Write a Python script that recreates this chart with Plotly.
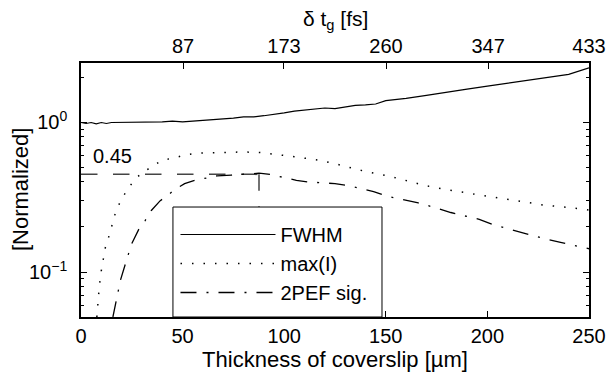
import numpy as np
import plotly.graph_objects as go

# ---- data ----
thick_fwhm = [0, 2.5, 5, 7.5, 10, 12.5, 15, 20, 25, 30, 35, 40, 45, 50, 55, 60, 65, 70,
              75, 80, 85, 90, 95, 100, 105, 110, 115, 120, 125, 130, 135, 140, 145, 150,
              160, 170, 180, 190, 200, 210, 220, 230, 240, 250]
fwhm = [1.00, 0.985, 1.0, 0.98, 1.0, 0.985, 1.0, 1.0, 1.0, 1.005, 1.01, 1.01, 1.02, 1.01,
        1.02, 1.03, 1.05, 1.05, 1.07, 1.09, 1.09, 1.11, 1.13, 1.16, 1.19, 1.21, 1.24, 1.25,
        1.24, 1.27, 1.30, 1.31, 1.33, 1.40, 1.45, 1.52, 1.60, 1.67, 1.75, 1.83, 1.92, 2.00,
        2.10, 2.32]

thick_maxi = [7.8, 8.2, 9, 10, 11, 12, 14, 17, 20, 22, 26, 30, 35, 40, 46, 52, 58, 65, 72,
              80, 88, 95, 100, 105, 111, 117, 125, 132, 140, 151, 160, 170, 180, 189, 200,
              208, 220, 228, 240, 250]
maxi = [0.05, 0.06, 0.08, 0.102, 0.125, 0.146, 0.178, 0.25, 0.31, 0.34, 0.41, 0.46, 0.505,
        0.56, 0.58, 0.61, 0.625, 0.63, 0.635, 0.635, 0.63, 0.615, 0.60, 0.59, 0.575, 0.56,
        0.53, 0.50, 0.47, 0.44, 0.41, 0.377, 0.355, 0.34, 0.32, 0.31, 0.29, 0.28, 0.27, 0.26]

thick_2pef = [15.7, 16.5, 17.7, 19.5, 21, 22.4, 25, 27, 29, 31.5, 34.5, 39, 42, 46, 51, 56,
              62, 67, 74, 82, 87.6, 93, 98, 106, 112, 118, 125, 132, 138, 144, 151, 158,
              166, 174, 182, 190, 196, 203, 210, 220, 228, 236, 243, 250]
pef = [0.05, 0.058, 0.068, 0.089, 0.105, 0.12, 0.155, 0.175, 0.2, 0.22, 0.257, 0.30, 0.32,
       0.355, 0.39, 0.41, 0.425, 0.44, 0.445, 0.455, 0.458, 0.45, 0.435, 0.41, 0.40, 0.397,
       0.39, 0.377, 0.36, 0.345, 0.32, 0.305, 0.29, 0.27, 0.25, 0.235, 0.225, 0.207, 0.195,
       0.18, 0.167, 0.158, 0.15, 0.143]

ref_level = 0.45          # horizontal marker level
ref_thick = 87.6          # thickness where 2PEF peaks
y_bottom = 0.05
y_top = 2.5

x_ticks = [0, 50, 100, 150, 200, 250]
top_ticks = [87, 173, 260, 347, 433]
top_range = [0, 433]
y_major = [0.1, 1]
y_major_text = ["10<sup>\u22121</sup>", "10<sup>0</sup>"]
y_minor = [0.05, 0.06, 0.07, 0.08, 0.09, 0.2, 0.3, 0.4, 0.5, 0.6, 0.7, 0.8, 0.9, 2]

FONT = "Liberation Sans, Arial, Helvetica, sans-serif"
FS = 20

fig = go.Figure()
fig.add_trace(go.Scatter(x=[0, ref_thick], y=[ref_level, ref_level], mode="lines",
                         line=dict(color="#444", width=1.5, dash="16.5px,15.5px"),
                         showlegend=False, hoverinfo="skip"))
fig.add_trace(go.Scatter(x=[ref_thick, ref_thick], y=[ref_level, y_bottom], mode="lines",
                         line=dict(color="#444", width=1.5, dash="16.5px,15.5px"),
                         showlegend=False, hoverinfo="skip"))
fig.add_trace(go.Scatter(x=thick_fwhm, y=fwhm, mode="lines", name="FWHM",
                         line=dict(color="black", width=1.2)))
fig.add_trace(go.Scatter(x=thick_maxi, y=maxi, mode="lines", name="max(I)",
                         line=dict(color="black", width=1.5, dash="1.5px,10px")))
fig.add_trace(go.Scatter(x=thick_2pef, y=pef, mode="lines", name="2PEF sig.",
                         line=dict(color="black", width=1.3, dash="16px,10px,2px,10px")))
# invisible trace to carry the top axis
fig.add_trace(go.Scatter(x=top_range, y=[1, 1], xaxis="x2", mode="lines",
                         line=dict(width=0), showlegend=False, hoverinfo="skip"))

fig.update_layout(
    width=609, height=379,
    margin=dict(l=81, r=20, t=63, b=62, autoexpand=False),
    paper_bgcolor="white", plot_bgcolor="white",
    font=dict(family=FONT, size=FS, color="black"),
    xaxis=dict(range=[0, 250], tickvals=x_ticks, ticks="inside", ticklen=6,
               tickcolor="black", showline=True, linecolor="black", linewidth=1.6,
               showgrid=False, zeroline=False, automargin=False,
               tickfont=dict(family=FONT, size=FS),
               title=dict(text="Thickness of coverslip [\u00b5m]", standoff=4,
                          font=dict(family=FONT, size=22))),
    xaxis2=dict(range=top_range, overlaying="x", side="top", tickvals=top_ticks,
                ticks="inside", ticklen=6, tickcolor="black", showline=True,
                linecolor="black", linewidth=1.6, showgrid=False, zeroline=False,
                automargin=False, tickfont=dict(family=FONT, size=FS)),
    yaxis=dict(type="log", range=[np.log10(y_bottom), np.log10(y_top)],
               tickvals=y_major, ticktext=y_major_text, ticks="inside", ticklen=6,
               tickcolor="black", showline=True, linecolor="black", linewidth=1.6,
               mirror="ticks", showgrid=False, zeroline=False, ticklabelstandoff=8,
               automargin=False, tickfont=dict(family=FONT, size=FS),
               minor=dict(tickvals=y_minor, ticks="inside", ticklen=3, tickcolor="black")),
    legend=dict(x=0.186, y=0.4016, xanchor="left", yanchor="top",
                bgcolor="rgba(0,0,0,0)", borderwidth=0, itemwidth=95,
                font=dict(family=FONT, size=FS)),
    shapes=[dict(type="rect", xref="paper", yref="paper", x0=0.181, x1=0.5925,
                 y0=0, y1=0.433, fillcolor="white", line=dict(color="black", width=1),
                 layer="above")],
    annotations=[
        dict(x=15.7, y=np.log10(0.6), xref="x", yref="y", text="0.45",
             showarrow=False, font=dict(family=FONT, size=FS)),
        dict(x=0.5, y=1.169, xref="paper", yref="paper", text="\u03b4 t<sub>g</sub> [fs]",
             showarrow=False, yanchor="middle", font=dict(family=FONT, size=21)),
        dict(x=-0.12, y=0.5, xref="paper", yref="paper", text="[Normalized]",
             textangle=-90, showarrow=False, xanchor="center", yanchor="middle",
             font=dict(family=FONT, size=22)),
    ],
)

fig.write_html("out.html", config={"displayModeBar": False},
               post_script="document.body.style.margin='0px';")
